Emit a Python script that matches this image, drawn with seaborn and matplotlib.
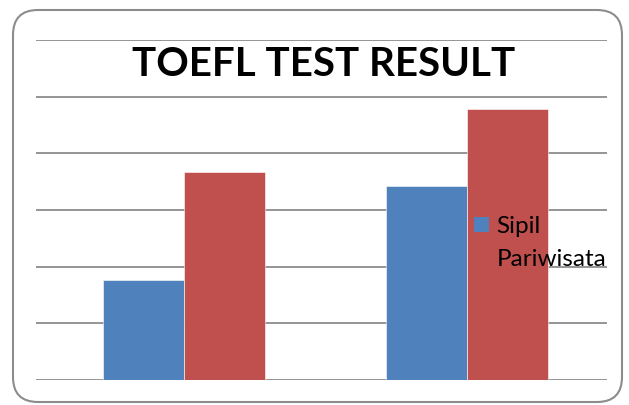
import numpy as np
import pandas as pd
import matplotlib
matplotlib.use("Agg")
import matplotlib.pyplot as plt
from matplotlib.patches import FancyBboxPatch
import seaborn as sns

## chart data (y axis has no labels -> grid units)
groups = ["Group 1", "Group 2"]
programs = ["Sipil", "Pariwisata"]
sipil_scores = [1.76, 3.42]
pariwisata_scores = [3.67, 4.78]
colors = ["#4F81BD", "#C0504D"]

df = pd.DataFrame({
    "group": groups * 2,
    "program": [programs[0]] * len(groups) + [programs[1]] * len(groups),
    "score": sipil_scores + pariwisata_scores,
})

sns.set_style("white")
plt.rcParams["font.family"] = ["Lato", "DejaVu Sans"]

W, H = 629, 405
fig = plt.figure(figsize=(W / 100, H / 100), dpi=100)

# plot area in pixel coords
left, right, top, bottom = 36, 607, 40, 380
ax = fig.add_axes([left / W, 1 - bottom / H, (right - left) / W, (bottom - top) / H])

sns.barplot(data=df, x="group", y="score", hue="program", palette=colors,
            width=0.57, gap=0, saturation=1, edgecolor="white", linewidth=0.4,
            ax=ax, zorder=3)

ax.set_ylim(0, 6)
ax.set_xlim(-0.523, 1.495)
ax.set_yticks(np.arange(0, 7, 1))
ax.yaxis.grid(True, color="#8c8c8c", linewidth=1.3, zorder=0)
ax.xaxis.grid(False)
ax.set_xticks([])
ax.set_yticklabels([])
ax.tick_params(left=False, bottom=False)
ax.set_xlabel("")
ax.set_ylabel("")
for s in ax.spines.values():
    s.set_visible(False)
ax.set_facecolor("none")

# title
fig.text(324 / W, 1 - 65 / H, "TOEFL TEST RESULT", ha="center", va="center",
         fontsize=29, fontweight="bold", color="black")

# legend sitting on top of the bars
leg = ax.legend(loc="upper left", bbox_to_anchor=(474 / W, 1 - 216 / H),
                bbox_transform=fig.transFigure, frameon=False, fontsize=17.5,
                handlelength=0.62, handleheight=0.62, handletextpad=0.3,
                labelspacing=0.5, borderaxespad=0, borderpad=0)
for h in leg.legend_handles:
    h.set_linewidth(0)
for t in leg.get_texts():
    t.set_color("black")
leg.set_zorder(5)

# rounded outer border
border = FancyBboxPatch((0.13, 0.03), 6.09, 3.92,
                        boxstyle="round,pad=0,rounding_size=0.25",
                        transform=fig.dpi_scale_trans, fill=False,
                        edgecolor="#8c8c8c", linewidth=1.5)
fig.patches.append(border)

fig.savefig("out.png", dpi=100)
